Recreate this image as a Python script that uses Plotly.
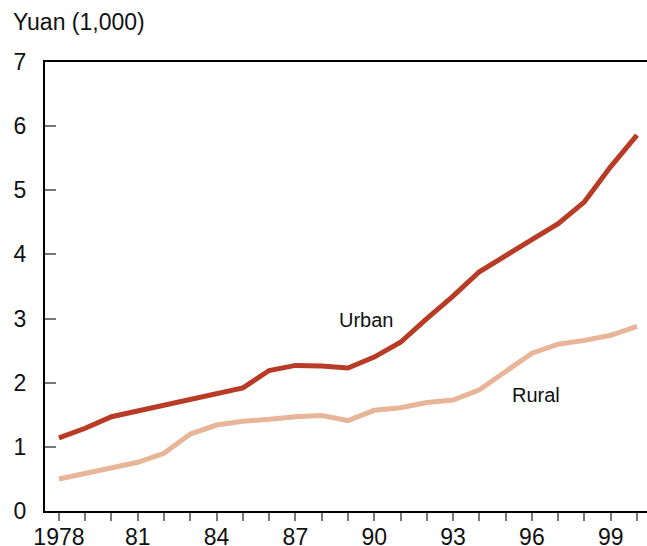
import plotly.graph_objects as go

years = list(range(1978, 2001))
urban = [1.14, 1.29, 1.47, 1.56, 1.65, 1.74, 1.83, 1.92, 2.19, 2.27, 2.26, 2.23,
         2.40, 2.63, 3.00, 3.35, 3.73, 3.97, 4.23, 4.48, 4.82, 5.37, 5.86]
rural = [0.50, 0.59, 0.68, 0.76, 0.90, 1.20, 1.34, 1.40, 1.43, 1.47, 1.49, 1.41,
         1.57, 1.61, 1.69, 1.73, 1.89, 2.17, 2.46, 2.60, 2.66, 2.74, 2.88]
tick_vals = [1978, 1981, 1984, 1987, 1990, 1993, 1996, 1999]
tick_text = ["1978", "81", "84", "87", "90", "93", "96", "99"]
y_ticks = [0, 1, 2, 3, 4, 5, 6, 7]

URBAN_C = "#B83B26"
RURAL_C = "#E8B598"
FONT = "Liberation Sans, Arial, sans-serif"

fig = go.Figure()
fig.add_trace(go.Scatter(x=years, y=rural, mode="lines", name="Rural",
                         line=dict(color=RURAL_C, width=5)))
fig.add_trace(go.Scatter(x=years, y=urban, mode="lines", name="Urban",
                         line=dict(color=URBAN_C, width=5)))

fig.update_layout(
    width=647, height=546,
    margin=dict(l=45, r=0, t=62, b=35),
    paper_bgcolor="white", plot_bgcolor="white",
    showlegend=False,
    font=dict(family=FONT, size=23, color="#111111"),
    xaxis=dict(
        range=[1977.47, 2000.38],
        automargin=False,
        tickmode="array", tickvals=tick_vals, ticktext=tick_text,
        ticks="outside", ticklen=8, tickwidth=1.5, tickcolor="#777777",
        showline=True, linecolor="black", linewidth=2, mirror=True,
        showgrid=False, zeroline=False,
        ticklabelstandoff=-4,
        tickfont=dict(size=23, family=FONT, color="#111111"),
        minor=dict(dtick=1, tick0=1978, ticks="outside", ticklen=8,
                   tickwidth=1.5, tickcolor="#777777", showgrid=False),
    ),
    yaxis=dict(
        range=[0, 7],
        automargin=False,
        tickmode="array", tickvals=y_ticks,
        ticks="inside", ticklen=11, tickwidth=1.5, tickcolor="#777777",
        showline=True, linecolor="black", linewidth=2,
        showgrid=False, zeroline=False,
        ticklabelstandoff=12,
        tickfont=dict(size=23, family=FONT, color="#111111"),
    ),
    annotations=[
        dict(text="Yuan (1,000)", xref="paper", yref="paper",
             x=-34/602, y=1 + 40/449, xanchor="left", yanchor="middle",
             showarrow=False, font=dict(size=23, family=FONT, color="#111111")),
        dict(text="Urban", x=1988.6, y=2.975, xanchor="left", yanchor="middle",
             showarrow=False, font=dict(size=20, family=FONT, color="#111111")),
        dict(text="Rural", x=1995.15, y=1.805, xanchor="left", yanchor="middle",
             showarrow=False, font=dict(size=20, family=FONT, color="#111111")),
    ],
)

fig.write_html(
    "out.html",
    config={"displayModeBar": False},
    post_script=("document.body.style.margin='0';"
                 "document.body.style.padding='0';"
                 "document.documentElement.style.overflow='hidden';"
                 "document.body.style.overflow='hidden';"),
)
